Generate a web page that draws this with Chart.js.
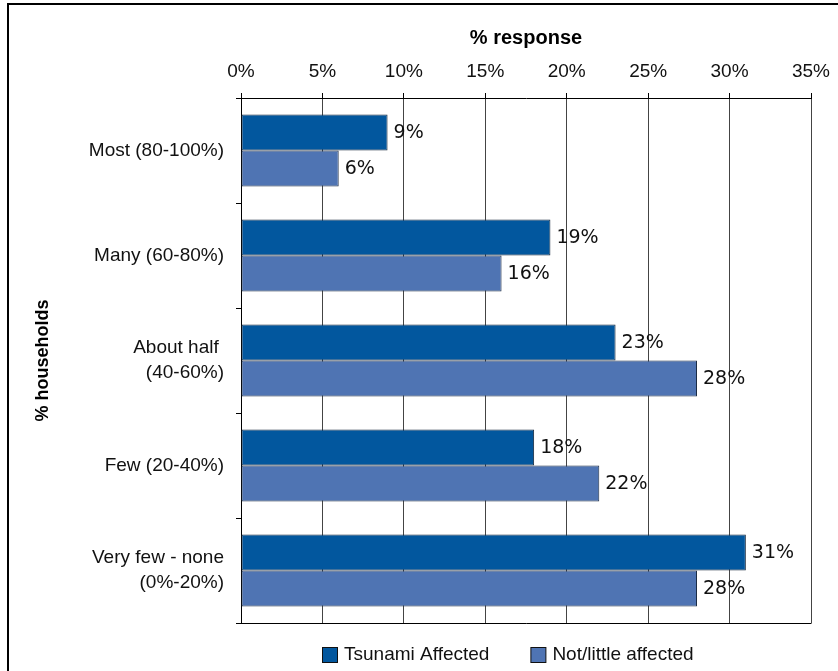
<!DOCTYPE html>
<html>
<head>
<meta charset="utf-8">
<title>% households by % response</title>
<script src="https://cdn.jsdelivr.net/npm/chart.js@4"></script>
<style>
  html, body { margin: 0; padding: 0; background: #ffffff; }
  #wrap { position: relative; width: 838px; height: 671px; }
</style>
</head>
<body>
<div id="wrap"><canvas id="chart"></canvas></div>
<script>
// Share of households, by tsunami impact
const categories = [
  ['Most (80-100%)'],
  ['Many (60-80%)'],
  ['About half ', '(40-60%)'],
  ['Few (20-40%)'],
  ['Very few - none', '(0%-20%)']
];
const seriesNames = ['Tsunami Affected', 'Not/little affected'];
const tsunamiAffected = [9, 19, 23, 18, 31];
const notLittleAffected = [6, 16, 28, 22, 28];
const xTicks = [0, 5, 10, 15, 20, 25, 30, 35];

const SANS = "'Liberation Sans', Arial, Helvetica, sans-serif";
const colors = ['#02579e', '#4f74b3'];

// Value labels at the end of each bar
const valueLabels = {
  id: 'valueLabels',
  afterDatasetsDraw(chart) {
    const ctx = chart.ctx;
    ctx.save();
    ctx.font = "19px 'DejaVu Sans', Verdana, sans-serif";
    ctx.fillStyle = '#111111';
    ctx.textAlign = 'left';
    ctx.textBaseline = 'middle';
    chart.data.datasets.forEach((ds, di) => {
      const meta = chart.getDatasetMeta(di);
      meta.data.forEach((bar, i) => {
        ctx.fillText(ds.data[i] + '%', bar.x + 6, bar.y + 1);
      });
    });
    ctx.restore();
  }
};

// Plot-area bottom edge, outer frame and the legend below the plot
const frameAndLegend = {
  id: 'frameAndLegend',
  afterDraw(chart) {
    const ctx = chart.ctx;
    const a = chart.chartArea;
    ctx.save();
    ctx.strokeStyle = '#000000';
    ctx.lineWidth = 1;
    ctx.beginPath();
    const by = Math.round(a.bottom) + 0.5;
    ctx.moveTo(a.left, by);
    ctx.lineTo(a.right + 0.5, by);
    ctx.stroke();

    ctx.lineWidth = 2;
    ctx.beginPath();
    ctx.moveTo(8, chart.height);
    ctx.lineTo(8, 4);
    ctx.lineTo(chart.width, 4);
    ctx.stroke();

    // legend
    ctx.font = '19px ' + SANS;
    ctx.textBaseline = 'middle';
    ctx.textAlign = 'left';
    const box = 15, gap = 7, itemGap = 41;
    const widths = chart.data.datasets.map(d => ctx.measureText(d.label).width);
    let total = 0;
    widths.forEach((w, i) => { total += box + gap + w + (i ? itemGap : 0); });
    let x = Math.round(508 - total / 2);
    const boxTop = 647, midY = 655;
    chart.data.datasets.forEach((d, i) => {
      ctx.fillStyle = d.backgroundColor;
      ctx.fillRect(x + 0.5, boxTop + 0.5, box, box);
      ctx.lineWidth = 1;
      ctx.strokeStyle = '#111111';
      ctx.strokeRect(x + 0.5, boxTop + 0.5, box, box);
      ctx.fillStyle = '#111111';
      ctx.fillText(d.label, x + box + gap, midY);
      x += box + gap + widths[i] + itemGap;
    });
    ctx.restore();
  }
};

new Chart(document.getElementById('chart'), {
  type: 'bar',
  data: {
    labels: categories,
    datasets: [
      {
        label: seriesNames[0],
        data: tsunamiAffected,
        backgroundColor: colors[0],
        borderColor: '#14263a',
        borderWidth: 1,
        borderSkipped: false,
        categoryPercentage: 0.686,
        barPercentage: 1.0
      },
      {
        label: seriesNames[1],
        data: notLittleAffected,
        backgroundColor: colors[1],
        borderColor: '#1c2c44',
        borderWidth: 1,
        borderSkipped: false,
        categoryPercentage: 0.686,
        barPercentage: 1.0
      }
    ]
  },
  options: {
    indexAxis: 'y',
    responsive: true,
    maintainAspectRatio: false,
    animation: false,
    events: [],
    layout: { padding: { left: 0, right: 27, top: 0, bottom: 48 } },
    plugins: {
      legend: { display: false },
      tooltip: { enabled: false },
      title: { display: false }
    },
    scales: {
      x: {
        position: 'top',
        min: 0,
        max: 35,
        afterBuildTicks(scale) {
          scale.ticks = xTicks.map(v => ({ value: v }));
        },
        afterFit(scale) {
          scale.height = 98;
          scale.paddingLeft = 0;
          scale.paddingRight = 0;
        },
        ticks: {
          color: '#111111',
          font: { family: SANS, size: 19 },
          padding: 10,
          maxRotation: 0,
          callback: v => v + '%'
        },
        grid: {
          color: '#444444',
          lineWidth: 1,
          tickLength: 5,
          tickColor: '#000000'
        },
        border: { display: true, color: '#000000', width: 1 },
        title: {
          display: true,
          text: '% response',
          color: '#000000',
          font: { family: SANS, size: 20, weight: 'bold' },
          padding: { top: 26, bottom: 0 }
        }
      },
      y: {
        position: 'left',
        afterFit(scale) { scale.width = 241; },
        ticks: {
          color: '#111111',
          font: { family: SANS, size: 19, lineHeight: 1.3 },
          padding: 12
        },
        grid: {
          offset: true,
          drawOnChartArea: false,
          drawTicks: true,
          tickLength: 5,
          color: '#000000',
          lineWidth: 1
        },
        border: { display: true, color: '#000000', width: 1 },
        title: {
          display: true,
          text: '% households',
          color: '#000000',
          font: { family: SANS, size: 18, weight: 'bold' },
          padding: { top: 32, bottom: 0 }
        }
      }
    }
  },
  plugins: [valueLabels, frameAndLegend]
});
</script>
</body>
</html>
